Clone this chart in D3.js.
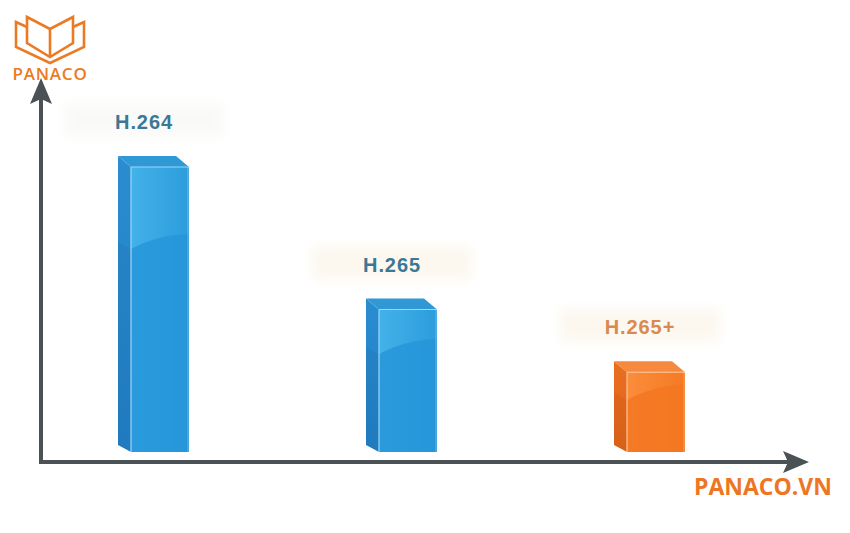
<!DOCTYPE html>
<html><head><meta charset="utf-8">
<script src="https://cdn.jsdelivr.net/npm/d3@7"></script>
<style>html,body{margin:0;padding:0;background:#fff;}svg{display:block;}</style>
</head><body>
<svg id="c" width="850" height="533"></svg>
<script>
const categories = ["H.264", "H.265", "H.265+"];
const values = [100, 50, 28];
const barKinds = ["blue", "blue", "orange"];

const svg = d3.select("#c");
const defs = svg.append("defs");

const palette = {
  blue:   {front: ["#43b2ea", "#2c9cdc"], lower: "#2495d8", side: ["#2a8dd0", "#2180c6"], top: "#3198d6", edge: "#9ad8f7", label: "#3b7896"},
  orange: {front: ["#fb8d3c", "#f57a22"], lower: "#f47520", side: ["#ea6e1f", "#e0651a"], top: "#f58a3e", edge: "#ffc49a", label: "#d98a4f"}
};
Object.entries(palette).forEach(([k, p]) => {
  const g1 = defs.append("linearGradient").attr("id", "front-" + k).attr("x1", 0).attr("x2", 1).attr("y1", 0).attr("y2", 0);
  g1.append("stop").attr("offset", "0%").attr("stop-color", p.front[0]);
  g1.append("stop").attr("offset", "100%").attr("stop-color", p.front[1]);
  const g2 = defs.append("linearGradient").attr("id", "side-" + k).attr("x1", 0).attr("x2", 0).attr("y1", 0).attr("y2", 1);
  g2.append("stop").attr("offset", "0%").attr("stop-color", p.side[0]);
  g2.append("stop").attr("offset", "100%").attr("stop-color", p.side[1]);
});
const blur = defs.append("filter").attr("id", "blur").attr("x", "-20%").attr("y", "-50%").attr("width", "140%").attr("height", "200%");
blur.append("feGaussianBlur").attr("stdDeviation", 6);

const x = d3.scalePoint().domain(categories).range([160, 656]);
const y = d3.scaleLinear().domain([0, 100]).range([452, 167]);

const frontW = 58, depthX = -13, depthY = -11;
const axisColor = "#4b5256";
const labelDx = -16;

// faint glow boxes behind labels
categories.forEach((c, i) => {
  const cx = x(c) + labelDx, ty = y(values[i]) - 40;
  svg.append("rect").attr("x", cx - 80).attr("y", ty - 24).attr("width", 160).attr("height", 34)
    .attr("fill", i === 0 ? "#f9faf8" : "#fcf8f0").attr("filter", "url(#blur)");
});

// bars
const bars = svg.selectAll("g.bar").data(categories).join("g").attr("class", "bar");
bars.each(function(c, i) {
  const g = d3.select(this);
  const p = palette[barKinds[i]], k = barKinds[i];
  const x0 = x(c) - frontW / 2, x1 = x(c) + frontW / 2;
  const yt = y(values[i]), yb = y(0);
  // side face (left)
  g.append("path").attr("d", `M${x0},${yt} L${x0 + depthX},${yt + depthY} L${x0 + depthX},${yb - 7} L${x0},${yb} Z`)
    .attr("fill", `url(#side-${k})`);
  // top face
  g.append("path").attr("d", `M${x0},${yt} L${x0 + depthX},${yt + depthY} L${x1 + depthX},${yt + depthY} L${x1},${yt} Z`)
    .attr("fill", p.top);
  // front face
  g.append("rect").attr("x", x0).attr("y", yt).attr("width", frontW).attr("height", yb - yt).attr("fill", `url(#front-${k})`);
  // lower region with curved boundary (sheen)
  const h = yb - yt;
  const sy = yt + Math.min(h * 0.27, 76);
  g.append("path").attr("d", `M${x0},${sy + 6} Q${x0 + frontW * 0.45},${sy - 8} ${x1},${sy - 9} L${x1},${yb} L${x0},${yb} Z`)
    .attr("fill", p.lower).attr("opacity", 0.8);
  g.append("path").attr("d", `M${x0 + depthX},${sy + 2 + depthY * 0.3} L${x0},${sy + 6} L${x0},${yb} L${x0 + depthX},${yb - 7} Z`)
    .attr("fill", "#000").attr("opacity", 0.04);
  // highlight edges
  g.append("line").attr("x1", x0).attr("x2", x0).attr("y1", yt).attr("y2", yb).attr("stroke", p.edge).attr("stroke-width", 1.2);
  g.append("line").attr("x1", x0).attr("x2", x1).attr("y1", yt).attr("y2", yt).attr("stroke", p.edge).attr("stroke-width", 1);
  g.append("line").attr("x1", x1 - 1).attr("x2", x1 - 1).attr("y1", yt).attr("y2", yb).attr("stroke", "#fff").attr("stroke-opacity", 0.3).attr("stroke-width", 1);
  // label
  g.append("text").attr("x", x(c) + labelDx).attr("y", yt - 38).attr("text-anchor", "middle")
    .attr("font-family", "Liberation Sans, Arial, sans-serif").attr("font-weight", "bold").attr("font-size", 20)
    .attr("letter-spacing", 0.9).attr("fill", p.label).text(c);
});

// axes
svg.append("line").attr("x1", 41).attr("x2", 41).attr("y1", 464).attr("y2", 98).attr("stroke", axisColor).attr("stroke-width", 4);
svg.append("line").attr("x1", 39).attr("x2", 790).attr("y1", 462).attr("y2", 462).attr("stroke", axisColor).attr("stroke-width", 4);
svg.append("path").attr("d", "M41,78 L52,104 L41,99 L30,104 Z").attr("fill", axisColor);
svg.append("path").attr("d", "M809,462 L783,451 L788,462 L783,473 Z").attr("fill", axisColor);

// logo
const logo = svg.append("g").attr("fill", "none").attr("stroke", "#ec7a24").attr("stroke-width", 2.6).attr("stroke-linejoin", "miter");
logo.append("path").attr("d", "M27,17 L50,29 L73,17 L73,43 L50,57 L27,43 Z");
logo.append("path").attr("d", "M50,29 L50,57");
logo.append("path").attr("d", "M27,27 L16,22 L16,47 L50,63 L84,47 L84,22 L73,27");
svg.append("text").attr("x", 50).attr("y", 80).attr("text-anchor", "middle")
  .attr("font-family", "Open Sans, sans-serif").attr("font-weight", 600).attr("font-size", 17).attr("letter-spacing", 0.8)
  .attr("fill", "#ec7a24").text("PANACO");

svg.append("text").attr("x", 763).attr("y", 495).attr("text-anchor", "middle")
  .attr("font-family", "Open Sans, sans-serif").attr("font-weight", "bold").attr("font-size", 23)
  .attr("fill", "#ee7623").text("PANACO.VN");
</script>
</body></html>
